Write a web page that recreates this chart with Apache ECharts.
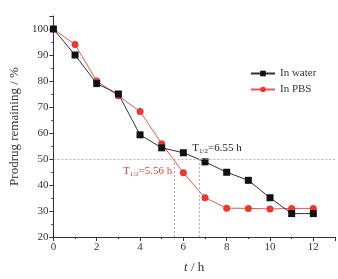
<!DOCTYPE html>
<html>
<head>
<meta charset="utf-8">
<script src="https://cdn.jsdelivr.net/npm/echarts@6/dist/echarts.min.js"></script>
<style>
  html, body { margin: 0; padding: 0; background: #fff; }
  #chart { width: 338px; height: 279px; }
</style>
</head>
<body>
<div id="chart"></div>
<script>
const hours = [0, 1, 2, 3, 4, 5, 6, 7, 8, 9, 10, 11, 12]
const inWater = [100, 90, 79, 75, 59.3, 54.3, 52.4, 48.9, 44.9, 41.8, 35.1, 29, 29]
const inPBS = [100, 94, 80, 74.3, 68.3, 55.9, 44.7, 35.1, 31.1, 31, 30.8, 31, 31]
const halfLifeWater = 6.75
const halfLifePBS = 5.56

const font = 'Liberation Serif'
const chart = echarts.init(document.getElementById('chart'))

const guide = { color: '#9a9a9a', type: [2, 2], width: 0.8 }

const option = {
  animation: false,
  backgroundColor: '#fff',
  textStyle: { fontFamily: font },
  grid: { left: 53, right: 3, top: 16, bottom: 38 },
  legend: {
    left: 245,
    top: 63,
    orient: 'vertical',
    itemWidth: 24,
    itemHeight: 7,
    itemGap: 5,
    textStyle: { fontFamily: font, fontSize: 11, color: '#333' },
    data: ['In water', 'In PBS']
  },
  xAxis: {
    type: 'value',
    min: 0,
    max: 13,
    interval: 2,
    name: '{i|t} / h',
    nameLocation: 'middle',
    nameGap: 24,
    nameTextStyle: {
      fontFamily: font, fontSize: 13, color: '#333',
      rich: { i: { fontStyle: 'italic', fontFamily: font, fontSize: 13, color: '#333' } }
    },
    axisLine: { lineStyle: { color: '#333', width: 1 } },
    axisTick: { length: 4, lineStyle: { color: '#333' } },
    minorTick: { show: true, splitNumber: 2, length: 2, lineStyle: { color: '#333' } },
    axisLabel: { color: '#333', fontSize: 11, fontFamily: font, showMaxLabel: false, margin: 5 },
    splitLine: { show: false }
  },
  yAxis: {
    type: 'value',
    min: 20,
    max: 105,
    interval: 10,
    name: 'Prodrug remaining / %',
    nameLocation: 'middle',
    nameGap: 30,
    nameTextStyle: { fontFamily: font, fontSize: 13, color: '#333' },
    axisLine: { show: true, lineStyle: { color: '#333', width: 1 } },
    axisTick: { length: 4, lineStyle: { color: '#333' } },
    minorTick: { show: true, splitNumber: 2, length: 2, lineStyle: { color: '#333' } },
    axisLabel: { color: '#333', fontSize: 11, fontFamily: font, showMaxLabel: false, margin: 5 },
    splitLine: { show: false }
  },
  series: [
    {
      name: 'In water',
      type: 'line',
      data: hours.map((h, i) => [h, inWater[i]]),
      symbol: 'rect',
      symbolSize: 7,
      color: '#111',
      lineStyle: { color: '#333', width: 1 },
      itemStyle: { color: '#111' },
      z: 3,
      markLine: {
        silent: true,
        symbol: 'none',
        label: { show: false },
        lineStyle: guide,
        data: [
          [{ coord: [0, 50] }, { coord: [13, 50] }],
          [{ coord: [halfLifeWater, 20] }, { coord: [halfLifeWater, 50] }],
          [{ coord: [halfLifePBS, 20] }, { coord: [halfLifePBS, 50] }]
        ]
      },
      markPoint: {
        silent: true,
        symbol: 'circle',
        symbolSize: 0,
        label: {
          show: true,
          position: 'inside',
          formatter: 'T{s|1/2}=6.55 h',
          fontFamily: font,
          fontSize: 11,
          color: '#222',
          rich: { s: { fontSize: 7, fontFamily: font, color: '#222', verticalAlign: 'bottom', padding: [6, 0, 0, 0] } }
        },
        data: [{ coord: [7.55, 54.3] }]
      }
    },
    {
      name: 'In PBS',
      type: 'line',
      data: hours.map((h, i) => [h, inPBS[i]]),
      symbol: 'circle',
      symbolSize: 7,
      color: '#e8392f',
      lineStyle: { color: '#e8564d', width: 1 },
      itemStyle: { color: '#e8392f' },
      z: 2,
      markPoint: {
        silent: true,
        symbol: 'circle',
        symbolSize: 0,
        label: {
          show: true,
          position: 'inside',
          formatter: 'T{s|1/2}=5.56 h',
          fontFamily: font,
          fontSize: 11,
          color: '#e8392f',
          rich: { s: { fontSize: 7, fontFamily: font, color: '#e8392f', verticalAlign: 'bottom', padding: [6, 0, 0, 0] } }
        },
        data: [{ coord: [4.35, 45.4] }]
      }
    }
  ]
}

chart.setOption(option)
</script>
</body>
</html>
